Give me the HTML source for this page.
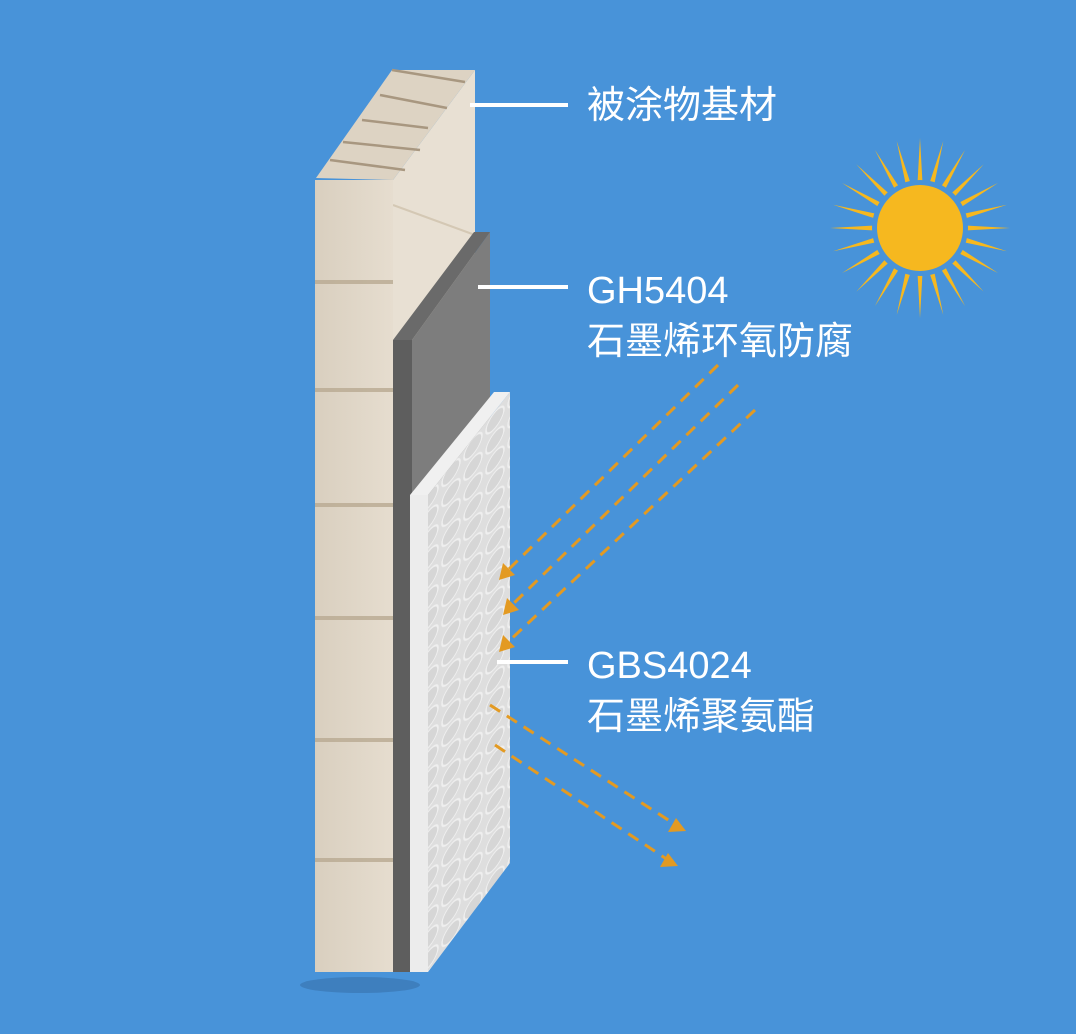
<!DOCTYPE html>
<html><head><meta charset="utf-8"><style>
html,body{margin:0;padding:0;background:#4893d9;}
svg{display:block}
text{font-family:"Liberation Sans","Noto Sans CJK SC",sans-serif;fill:#fff;}
</style></head><body>
<svg width="1076" height="1034" viewBox="0 0 1076 1034" xmlns="http://www.w3.org/2000/svg">
<defs>
<pattern id="cells" width="22" height="20" patternUnits="userSpaceOnUse" patternTransform="skewY(-50)">
<rect width="22" height="20" fill="#dedede"/>
<ellipse cx="11" cy="10" rx="9" ry="8" fill="#d6d6d6" stroke="#efefef" stroke-width="1.5"/>
</pattern>
<linearGradient id="wf" x1="0" x2="1"><stop offset="0" stop-color="#d9cfbf"/><stop offset="1" stop-color="#e6ddcf"/></linearGradient>
</defs>
<rect width="1076" height="1034" fill="#4893d9"/>
<ellipse cx="360" cy="985" rx="60" ry="8" fill="#3a76b2" opacity="0.7"/>
<polygon points="393,180 475,70 475,880 393,972" fill="#e8e0d3"/>
<line x1="393" y1="205" x2="475" y2="235" stroke="#d4c8b4" stroke-width="2"/>
<polygon points="316,178 392,70 475,70 393,180" fill="#ddd3c3"/>
<g stroke="#a89780" stroke-width="2.5">
<line x1="330" y1="160" x2="405" y2="170"/>
<line x1="343" y1="142" x2="420" y2="150"/>
<line x1="362" y1="120" x2="428" y2="128"/>
<line x1="380" y1="95" x2="447" y2="108"/>
<line x1="392" y1="70" x2="465" y2="82"/>
</g>
<rect x="315" y="180" width="78" height="792" fill="url(#wf)"/>
<g stroke="#b9aa92" stroke-width="4" opacity="0.8">
<line x1="315" y1="282" x2="393" y2="282"/>
<line x1="315" y1="390" x2="393" y2="390"/>
<line x1="315" y1="505" x2="393" y2="505"/>
<line x1="315" y1="618" x2="393" y2="618"/>
<line x1="315" y1="740" x2="393" y2="740"/>
<line x1="315" y1="860" x2="393" y2="860"/>
</g>
<polygon points="412,340 490,232 490,880 412,972" fill="#7d7d7d"/>
<polygon points="393,340 412,340 490,232 474,232" fill="#6a6a6a"/>
<rect x="393" y="340" width="19" height="632" fill="#5e5e5e"/>
<polygon points="428,495 510,392 510,863 428,972" fill="url(#cells)"/>
<polygon points="410,495 428,495 510,392 494,392" fill="#f0f0f0"/>
<rect x="410" y="495" width="18" height="477" fill="#ececec"/>
<g stroke="#fff" stroke-width="4">
<line x1="470" y1="105" x2="568" y2="105"/>
<line x1="478" y1="287" x2="568" y2="287"/>
<line x1="497" y1="662" x2="568" y2="662"/>
</g>
<g font-size="38">
<text x="587" y="118">被涂物基材</text>
<text x="587" y="303">GH5404</text>
<text x="587" y="354">石墨烯环氧防腐</text>
<text x="587" y="678">GBS4024</text>
<text x="587" y="729">石墨烯聚氨酯</text>
</g>
<g fill="#f6b81f" transform="translate(920,228)">
<g id="rays"><polygon points="-5,0 5,0 0,-90"/></g>
<use href="#rays" transform="rotate(15)"/><use href="#rays" transform="rotate(30)"/><use href="#rays" transform="rotate(45)"/>
<use href="#rays" transform="rotate(60)"/><use href="#rays" transform="rotate(75)"/><use href="#rays" transform="rotate(90)"/>
<use href="#rays" transform="rotate(105)"/><use href="#rays" transform="rotate(120)"/><use href="#rays" transform="rotate(135)"/>
<use href="#rays" transform="rotate(150)"/><use href="#rays" transform="rotate(165)"/><use href="#rays" transform="rotate(180)"/>
<use href="#rays" transform="rotate(195)"/><use href="#rays" transform="rotate(210)"/><use href="#rays" transform="rotate(225)"/>
<use href="#rays" transform="rotate(240)"/><use href="#rays" transform="rotate(255)"/><use href="#rays" transform="rotate(270)"/>
<use href="#rays" transform="rotate(285)"/><use href="#rays" transform="rotate(300)"/><use href="#rays" transform="rotate(315)"/>
<use href="#rays" transform="rotate(330)"/><use href="#rays" transform="rotate(345)"/>
<circle r="48" fill="#4893d9"/>
<circle r="43"/>
</g>
<g stroke="#e39a22" stroke-width="3" stroke-dasharray="12,8" fill="none">
<line x1="718" y1="365" x2="508" y2="570"/>
<line x1="738" y1="385" x2="512" y2="605"/>
<line x1="755" y1="410" x2="508" y2="642"/>
<line x1="490" y1="705" x2="676" y2="825"/>
<line x1="495" y1="745" x2="668" y2="860"/>
</g>
<g fill="#e39a22">
<polygon points="499,580 503,563 515,575"/>
<polygon points="503,615 507,598 519,610"/>
<polygon points="499,652 503,635 515,647"/>
<polygon points="686,831 668,832 676,818"/>
<polygon points="678,866 660,867 668,853"/>
</g>
</svg>
</body></html>
